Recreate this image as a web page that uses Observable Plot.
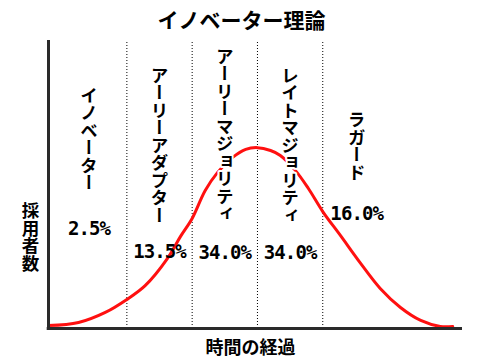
<!DOCTYPE html>
<html><head><meta charset="utf-8">
<script src="https://cdn.jsdelivr.net/npm/d3@7"></script>
<script src="https://cdn.jsdelivr.net/npm/@observablehq/plot@0.6"></script>
<style>body{margin:0;background:#fff}</style>
</head><body><div id="chart"></div>
<script>
// ---- data ----
const titleText = "イノベーター理論";
const yLabel = "採用者数";
const xLabel = "時間の経過";
const segments = ["イノベーター", "アーリーアダプター", "アーリーマジョリティ", "レイトマジョリティ", "ラガード"];
const shares = ["2.5%", "13.5%", "34.0%", "34.0%", "16.0%"];
const boundaries = [-2, -1, 0, 1];
const curveX = [-3.2, -2.74, -2.33, -2, -1.72, -1.38, -1.18, -1, -0.8, -0.61, -0.38, -0.18, 0, 0.2, 0.35, 0.58, 0.78, 1, 1.27, 1.58, 1.88, 2.19, 2.5, 2.8, 2.99];
const curveY = [1.0, 2.1, 5.6, 10.1, 14.9, 24.3, 31.9, 38.2, 47.9, 54.2, 59.4, 62.2, 62.8, 61.8, 60.1, 54.9, 48.6, 40.6, 32.3, 22.6, 13.9, 7.3, 2.8, 0.7, 0.7];

// ---- layout ----
const xDomain = [-3.2, 3.14];
const labelX = [-2.58, -1.5, -0.5, 0.5, 1.52];
const labelTop = [84.0, 91.1, 97.7, 91.1, 75.5];
const shareY = [34.7, 26.7, 26.4, 26.4, 39.9];
const jp = "'Noto Sans CJK JP', 'Noto Sans', sans-serif";

const curve = curveX.map((x, i) => ({x, y: curveY[i]}));
const labels = segments.map((s, i) => ({s, x: labelX[i], y: labelTop[i]}));
const pct = shares.map((s, i) => ({s, x: labelX[i], y: shareY[i]}));

const chart = Plot.plot({
  width: 480, height: 360,
  marginLeft: 48, marginRight: 18, marginTop: 40, marginBottom: 32,
  x: {domain: xDomain, axis: null},
  y: {domain: [0, 100], axis: null},
  style: {fontFamily: jp, background: "#fff", overflow: "visible"},
  marks: [
    Plot.ruleX(boundaries, {y1: 0, y2: 100, stroke: "#000", strokeWidth: 1, strokeDasharray: "1,2"}),
    Plot.line(curve, {x: "x", y: "y", stroke: "#ff1010", strokeWidth: 3, curve: "catmull-rom"}),
    Plot.text(labels, {x: "x", y: "y", text: "s", textAnchor: "start", lineAnchor: "top", fontSize: 17.5, fontWeight: "bold", fill: "#000", stroke: "#fff", strokeWidth: 4, paintOrder: "stroke"}),
    Plot.text(pct, {x: "x", y: "y", text: "s", fontSize: 19, fontWeight: "bold", fontFamily: "'DejaVu Sans Mono', monospace", fill: "#000"}),
    Plot.ruleX([xDomain[0]], {y1: 0, y2: 100, stroke: "#2a2a2a", strokeWidth: 3}),
    Plot.ruleY([0], {x1: xDomain[0] - 0.02, x2: xDomain[1], stroke: "#2a2a2a", strokeWidth: 3}),
    Plot.text([titleText], {frameAnchor: "top", dx: -14, dy: -27, fontSize: 21, fontWeight: "bold", fill: "#000"}),
    Plot.text([xLabel], {frameAnchor: "bottom", dx: -5, dy: 25, fontSize: 18, fontWeight: "bold", fill: "#000"}),
    Plot.text([yLabel], {frameAnchor: "left", y: 44, dx: -18, textAnchor: "start", lineAnchor: "top", fontSize: 17.5, fontWeight: "bold", fill: "#000"})
  ]
});

const vertical = new Set([...segments, yLabel]);
chart.querySelectorAll("text").forEach(t => {
  if (vertical.has(t.textContent)) {
    t.removeAttribute("y");
    t.removeAttribute("dy");
    t.setAttribute("writing-mode", "vertical-rl");
    t.style.writingMode = "vertical-rl";
  }
  if (shares.includes(t.textContent)) t.style.letterSpacing = "-0.9px";
});
document.getElementById("chart").appendChild(chart);
</script>
</body></html>
